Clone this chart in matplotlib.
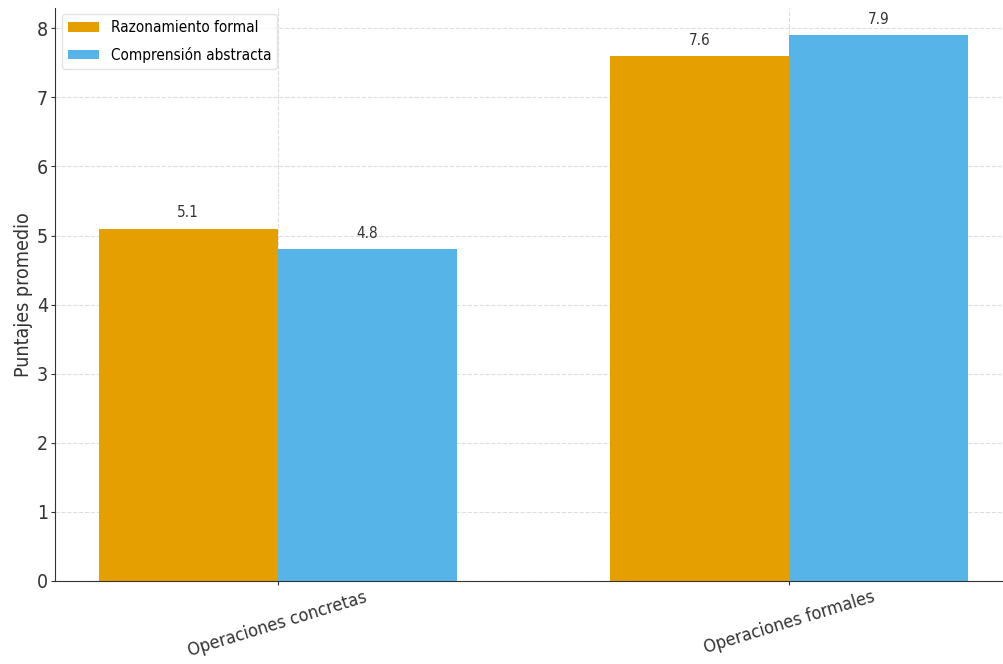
import matplotlib.pyplot as plt
import numpy as np

# Data
categories = ['Operaciones concretas', 'Operaciones formales']
razonamiento = [5.1, 7.6]
comprension = [4.8, 7.9]
series_names = ['Razonamiento formal', 'Comprensión abstracta']
colors = ['#E69F00', '#56B4E9']

plt.rcParams['font.family'] = ['DejaVu Sans']
plt.rcParams['font.stretch'] = 'condensed'

fig = plt.figure(figsize=(10.04, 6.64), dpi=100)
ax = fig.add_axes([0.0548, 0.125, 0.953, 0.8637])

x = np.arange(len(categories))
width = 0.35

bars1 = ax.bar(x - width / 2, razonamiento, width, color=colors[0], label=series_names[0])
bars2 = ax.bar(x + width / 2, comprension, width, color=colors[1], label=series_names[1])

# Value labels above each bar
for bars in (bars1, bars2):
    ax.bar_label(bars, labels=['{:.1f}'.format(b.get_height()) for b in bars],
                 padding=6, fontsize=11, color='#333333')

ax.set_xlim(-0.435, 1.435)
ax.set_ylim(0, 8.3)
ax.set_yticks(range(0, 9))
ax.set_xticks(x)
ax.set_xticklabels(categories, rotation=17, ha='center', fontsize=13, color='#333333')
ax.tick_params(axis='y', labelsize=14, colors='#333333', length=3, pad=2)
ax.tick_params(axis='x', length=3, colors='#333333', pad=2)
ax.set_ylabel('Puntajes promedio', fontsize=14, color='#333333', labelpad=3)

ax.grid(True, color='#dddddd', linewidth=0.8, linestyle='--')
ax.set_axisbelow(True)
for side in ('top', 'right'):
    ax.spines[side].set_visible(False)
ax.spines['left'].set_color('#333333')
ax.spines['bottom'].set_color('#333333')

ax.legend(loc='upper left', prop={'size': 11, 'stretch': 'condensed'}, frameon=True,
          edgecolor='#dddddd', borderaxespad=0.45, handlelength=2.0,
          labelspacing=0.75, handleheight=0.6)

plt.savefig('out.png', dpi=100)
